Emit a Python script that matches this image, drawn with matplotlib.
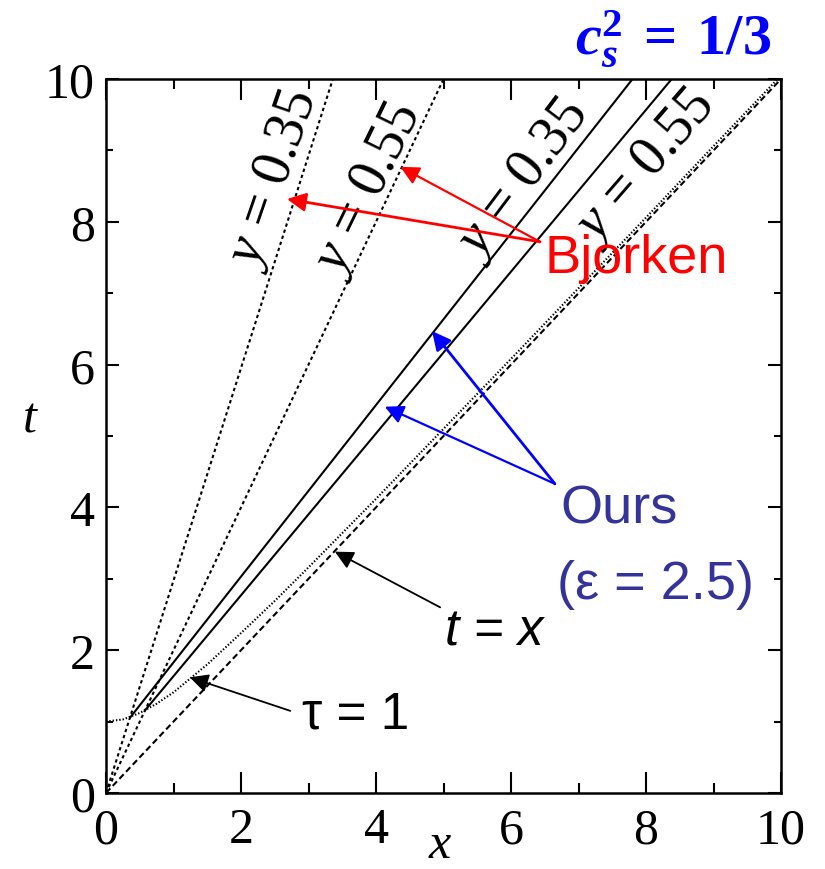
import matplotlib
matplotlib.use("Agg")
from matplotlib import pyplot as plt
from matplotlib.ticker import MultipleLocator

plt.rcParams['mathtext.fontset'] = 'custom'
plt.rcParams['mathtext.rm'] = 'Liberation Serif'
plt.rcParams['mathtext.it'] = 'Liberation Serif:italic'
plt.rcParams['mathtext.bf'] = 'Liberation Serif:bold:italic'
plt.rcParams['mathtext.sf'] = 'Liberation Serif:bold'
plt.rcParams['lines.scale_dashes'] = False

# Bjorken flow lines (straight through the origin)
bj035_x = [0.0, 3.36]
bj035_t = [0.0, 10.0]
bj055_x = [0.0, 5.00]
bj055_t = [0.0, 10.0]

# our solutions, starting on tau = 1
ours035_x = [0.36, 7.80]
ours035_t = [1.06, 10.0]
ours055_x = [0.58, 8.38]
ours055_t = [1.16, 10.0]

# tau = 1 hyperbola
tau1_x = [0.0, 0.25, 0.5, 0.75, 1.0, 1.5, 2.0, 2.5, 3.0, 4.0, 5.0, 6.0, 7.0, 8.0, 9.0, 10.0]
tau1_t = [1.0, 1.03, 1.12, 1.25, 1.41, 1.80, 2.24, 2.69, 3.16, 4.12, 5.10, 6.08, 7.07, 8.06, 9.06, 10.05]

# light cone t = x
light_x = [0.0, 10.0]
light_t = [0.0, 10.0]

fig = plt.figure(figsize=(8.25, 8.7), dpi=100)
ax = fig.add_axes([0.1285, 0.0874, 0.8182, 0.8206])

lw = 1.5
ax.plot(bj035_x, bj035_t, color='k', lw=lw, dashes=(2.4, 2.2))
ax.plot(bj055_x, bj055_t, color='k', lw=lw, dashes=(2.4, 2.2))
ax.plot(ours035_x, ours035_t, color='k', lw=lw)
ax.plot(ours055_x, ours055_t, color='k', lw=lw)
ax.plot(tau1_x, tau1_t, color='k', lw=lw, dashes=(1.0, 1.4))
ax.plot(light_x, light_t, color='k', lw=lw, dashes=(4.5, 2.5))

ax.set_xlim(0, 10)
ax.set_ylim(0, 10)

ax.xaxis.set_major_locator(MultipleLocator(2))
ax.xaxis.set_minor_locator(MultipleLocator(1))
ax.yaxis.set_major_locator(MultipleLocator(2))
ax.yaxis.set_minor_locator(MultipleLocator(1))
ax.tick_params(axis='x', which='major', direction='in', top=True, length=15, width=1.5, pad=10)
ax.tick_params(axis='x', which='minor', direction='in', top=True, length=7, width=1.5)
ax.tick_params(axis='y', which='major', direction='in', right=True, length=9.5, width=1.5, pad=8)
ax.tick_params(axis='y', which='minor', direction='in', right=True, length=5, width=1.5)
for lab in ax.get_xticklabels() + ax.get_yticklabels():
    lab.set_fontfamily('Liberation Serif')
    lab.set_fontsize(36)
for sp in ax.spines.values():
    sp.set_linewidth(1.8)

ax.text(-0.113, 0.524, 't', transform=ax.transAxes, fontsize=36, style='italic',
        family='Liberation Serif', ha='center', va='center')
ax.text(0.495, -0.072, 'x', transform=ax.transAxes, fontsize=36, style='italic',
        family='Liberation Serif', ha='center', va='center')

# rapidity labels along the lines
lab_kw = dict(fontsize=40, family='Liberation Serif', ha='center', va='center', rotation_mode='anchor')
ax.text(2.49, 8.6, '$y$ = 0.35', rotation=71, **lab_kw)
ax.text(3.88, 8.46, '$y$ = 0.55', rotation=64, **lab_kw)
ax.text(6.18, 8.6, '$y$ = 0.35', rotation=53, **lab_kw)
ax.text(7.99, 8.78, '$y$ = 0.55', rotation=49, **lab_kw)

sans = 'Liberation Sans'
red = '#ff0000'
blue = '#0000ff'
navy = '#333399'

def arrow(tip, tail, color, lw):
    ax.annotate('', xy=tip, xytext=tail,
                arrowprops=dict(arrowstyle='-|>', color=color, lw=lw,
                                mutation_scale=28, shrinkA=0, shrinkB=0))

arrow((2.68, 8.32), (6.43, 7.72), red, 2.0)
arrow((4.36, 8.77), (6.43, 7.72), red, 1.6)
arrow((4.83, 6.47), (6.65, 4.33), blue, 2.0)
arrow((4.13, 5.41), (6.65, 4.33), blue, 1.6)
arrow((3.39, 3.38), (4.95, 2.60), 'k', 1.3)
arrow((1.24, 1.62), (2.73, 1.15), 'k', 1.3)

ax.text(6.5, 7.5, 'Bjorken', color=red, fontsize=39, family=sans, ha='left', va='center')
ax.text(6.73, 3.98, 'Ours', color=navy, fontsize=39, family=sans, ha='left', va='center')
ax.text(6.68, 2.93, '(ε = 2.5)', color=navy, fontsize=39, family=sans, ha='left', va='center')
ax.text(5.02, 2.27, 't = x', color='k', fontsize=37, family=sans, style='italic', ha='left', va='center')
ax.text(2.9, 1.1, 'τ = 1', color='k', fontsize=37, family=['Liberation Sans'], ha='left', va='center')

fig.text(0.935, 0.937, r'$\mathbf{c}_{\mathbf{s}}^{\mathsf{2}}\mathsf{\;=\;1/3}$', color=blue,
         fontsize=42, ha='right', va='baseline')

fig.savefig('out.png', dpi=100)
